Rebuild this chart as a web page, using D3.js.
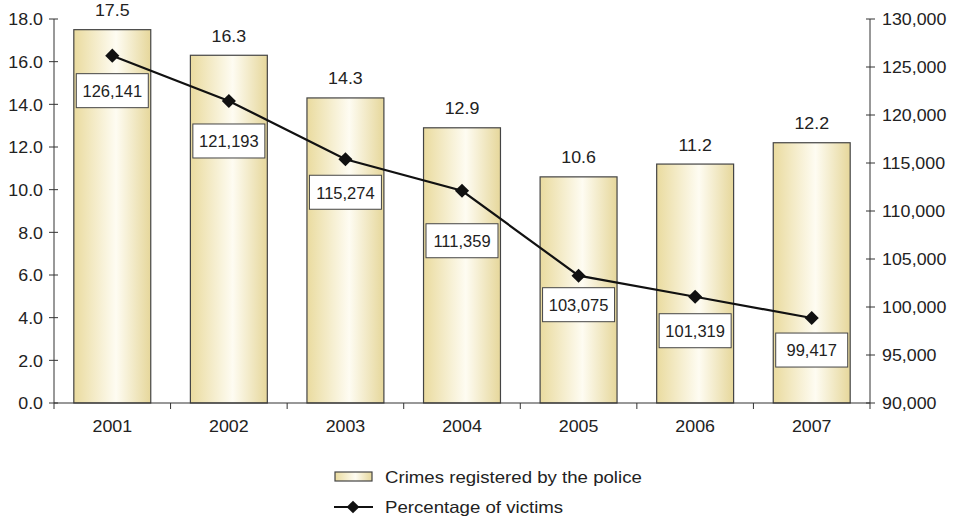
<!DOCTYPE html>
<html><head><meta charset="utf-8">
<script src="https://cdn.jsdelivr.net/npm/d3@7"></script>
<style>
body{margin:0;background:#fff;}
text{font-family:"Liberation Sans",Arial,sans-serif;fill:#222;}
</style></head>
<body><svg id="c" width="956" height="520"></svg>
<script>
const years = ["2001","2002","2003","2004","2005","2006","2007"];
const crimes = [17.5, 16.3, 14.3, 12.9, 10.6, 11.2, 12.2];
const victimLabels = [126141, 121193, 115274, 111359, 103075, 101319, 99417];
// line as plotted in the picture (read against the right axis)
const victimsPlotted = [126180, 121460, 115390, 112110, 103260, 101070, 98850];
const leftTicks = [0,2,4,6,8,10,12,14,16,18];
const rightTicks = [90000,95000,100000,105000,110000,115000,120000,125000,130000];
const boxOffsets = [18, 23, 16, 33, 12, 17, 15];

const svg = d3.select("#c");
const L = 54, R = 870, T = 19, B = 403;
const FS = 16.5, SX = 1.08;
const x = d3.scaleBand().domain(years).range([L, R]).paddingInner(0.34).paddingOuter(0.17);
const yL = d3.scaleLinear().domain([0, 18]).range([B, T]);
const yR = d3.scaleLinear().domain([90000, 130000]).range([B, T]);

function txt(px, py, anchor, s, sx){
  return svg.append("text").attr("transform",`translate(${px},${py}) scale(${sx||SX},1)`)
    .attr("text-anchor",anchor).attr("font-size",FS).text(s);
}

const defs = svg.append("defs");
const g = defs.append("linearGradient").attr("id","bg").attr("x1","0").attr("x2","1").attr("y1","0").attr("y2","0");
g.append("stop").attr("offset","0%").attr("stop-color","#eadb9f");
g.append("stop").attr("offset","55%").attr("stop-color","#fefcf2");
g.append("stop").attr("offset","100%").attr("stop-color","#e6d79b");

// bars
svg.selectAll("rect.bar").data(crimes).enter().append("rect")
  .attr("x",(d,i)=>x(years[i])).attr("width",x.bandwidth())
  .attr("y",d=>yL(d)).attr("height",d=>B-yL(d))
  .attr("fill","url(#bg)").attr("stroke","#444").attr("stroke-width",1.2);

// bar labels
crimes.forEach((d,i)=>txt(x(years[i])+x.bandwidth()/2, yL(d)-13.5, "middle", d.toFixed(1)));

// axes
const axisColor = "#333";
svg.append("line").attr("x1",L).attr("x2",L).attr("y1",T).attr("y2",B).attr("stroke",axisColor);
svg.append("line").attr("x1",R).attr("x2",R).attr("y1",T).attr("y2",B).attr("stroke",axisColor);
svg.append("line").attr("x1",L).attr("x2",R).attr("y1",B).attr("y2",B).attr("stroke",axisColor).attr("stroke-width",1.2);
leftTicks.forEach(t=>{
  svg.append("line").attr("x1",L-5).attr("x2",L+4).attr("y1",yL(t)).attr("y2",yL(t)).attr("stroke",axisColor);
  txt(L-11, yL(t)+6.2, "end", t.toFixed(1));
});
rightTicks.forEach(t=>{
  svg.append("line").attr("x1",R-4).attr("x2",R+5).attr("y1",yR(t)).attr("y2",yR(t)).attr("stroke",axisColor);
  txt(R+12, yR(t)+6.2, "start", d3.format(",")(t));
});
const step = (R-L)/years.length;
years.forEach((yv,i)=>{
  svg.append("line").attr("x1",L+step*i).attr("x2",L+step*i).attr("y1",B).attr("y2",B+6).attr("stroke",axisColor);
  txt(x(yv)+x.bandwidth()/2, B+29, "middle", yv);
});
svg.append("line").attr("x1",R).attr("x2",R).attr("y1",B).attr("y2",B+6).attr("stroke",axisColor);

// line
const cx = i => x(years[i]) + x.bandwidth()/2;
const line = d3.line().x((d,i)=>cx(i)).y(d=>yR(d));
svg.append("path").datum(victimsPlotted).attr("d",line).attr("fill","none").attr("stroke","#111").attr("stroke-width",2.2);
svg.selectAll("rect.m").data(victimsPlotted).enter().append("rect")
  .attr("x",-5).attr("y",-5).attr("width",10).attr("height",10)
  .attr("transform",(d,i)=>`translate(${cx(i)},${yR(d)}) rotate(45)`)
  .attr("fill","#111");

// value boxes
const bw = 72, bh = 34;
victimLabels.forEach((v,i)=>{
  const top = yR(victimsPlotted[i]) + boxOffsets[i];
  svg.append("rect").attr("x",cx(i)-bw/2).attr("y",top).attr("width",bw).attr("height",bh)
    .attr("fill","#fff").attr("stroke","#444").attr("stroke-width",1);
  txt(cx(i), top+bh/2+6.3, "middle", d3.format(",")(v), 1.0);
});

// legend
svg.append("rect").attr("x",335).attr("y",472).attr("width",37).attr("height",9)
  .attr("fill","url(#bg)").attr("stroke","#444").attr("stroke-width",1.2);
txt(385, 483, "start", "Crimes registered by the police", 1.13);
svg.append("line").attr("x1",334).attr("x2",373).attr("y1",507).attr("y2",507).attr("stroke","#111").attr("stroke-width",2.2);
svg.append("rect").attr("x",-4.5).attr("y",-4.5).attr("width",9).attr("height",9)
  .attr("transform","translate(353,507) rotate(45)").attr("fill","#111");
txt(385, 513, "start", "Percentage of victims", 1.13);
</script></body></html>
